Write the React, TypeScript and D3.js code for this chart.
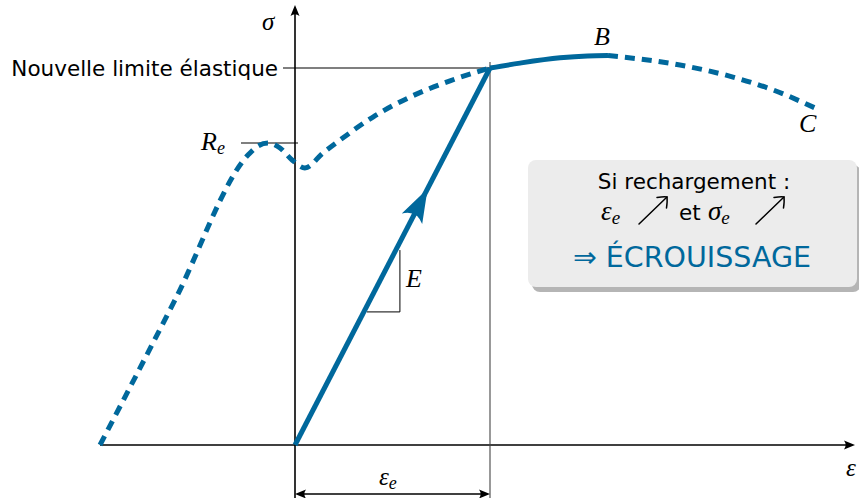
import React from "react";
import * as d3 from "d3";

// strain in units of εe, stress in units of the new yield limit
const strainDashedA = [-1.0, -0.615, -0.241, -0.19, -0.138, -0.077, -0.015, 0.051, 0.144, 0.231, 0.4, 0.59, 0.795, 1.0];
const stressDashedA = [0, 0.385, 0.769, 0.793, 0.801, 0.788, 0.756, 0.735, 0.775, 0.809, 0.87, 0.923, 0.966, 1.0];
const strainSolid = [1.0, 1.154, 1.359, 1.5, 1.605];
const stressSolid = [1.0, 1.013, 1.027, 1.032, 1.033];
const strainDashedB = [1.605, 1.682, 1.974, 2.246, 2.451, 2.667];
const stressDashedB = [1.033, 1.029, 1.008, 0.976, 0.942, 0.894];
const reStress = 0.801;
const yieldNew = 1.0;
const epsE = 1.0;
const arrowT = 0.68;
const triangle = { x0: 0.369, x1: 0.538, y0: 0.353, y1: 0.517 };

const BLUE = "#00689c";
const SANS = "DejaVu Sans";
const MATH = "Liberation Serif";

const x = d3.scaleLinear().domain([0, 1]).range([295, 490]);
const y = d3.scaleLinear().domain([0, 1]).range([445, 68]);

const line = d3
  .line<[number, number]>()
  .x((d) => x(d[0]))
  .y((d) => y(d[1]))
  .curve(d3.curveMonotoneX);

const zip = (a: number[], b: number[]) => a.map((v, i) => [v, b[i]] as [number, number]);

function arrowHead(tx: number, ty: number, angle: number, len: number, half: number, color: string) {
  const d = `M0,0 L${-len},${half} Q${-len * 0.7},0 ${-len},${-half} Z`;
  return <path d={d} fill={color} transform={`translate(${tx},${ty}) rotate(${angle})`} />;
}

function nearArrow(x0: number, y0: number) {
  // thin "↗" math arrow, drawn from bottom-left
  const dx = 28, dy = -27;
  const x1 = x0 + dx, y1 = y0 + dy;
  return (
    <g stroke="#000" strokeWidth={1.5} fill="none" strokeLinecap="round">
      <line x1={x0} y1={y0} x2={x1} y2={y1} />
      <path d={`M${x1 - 10},${y1 + 0.5} Q${x1 - 3},${y1 - 0.5} ${x1},${y1} Q${x1 + 0.5},${y1 + 4} ${x1 - 0.5},${y1 + 11}`} />
    </g>
  );
}

export default function App() {
  const xMin = x(-1.0);
  const xMax = 855;
  const yAxisTop = 5;
  const yBottom = 498;
  const ang = (Math.atan2(y(1) - y(0), x(1) - x(0)) * 180) / Math.PI;
  const tipX = x(arrowT);
  const tipY = y(arrowT);
  return (
    <svg
      width={859}
      height={498}
      style={{ position: "absolute", left: 0, top: 0, background: "#fff" }}
    >
      {/* axes */}
      <line x1={xMin} y1={y(0)} x2={xMax - 4} y2={y(0)} stroke="#000" strokeWidth={1.6} />
      {arrowHead(xMax, y(0), 0, 11, 4.5, "#000")}
      <line x1={x(0)} y1={yBottom} x2={x(0)} y2={yAxisTop + 4} stroke="#000" strokeWidth={1.6} />
      {arrowHead(x(0), yAxisTop, -90, 11, 4.5, "#000")}

      {/* helper lines */}
      <line x1={283} y1={y(yieldNew)} x2={x(epsE)} y2={y(yieldNew)} stroke="#000" strokeWidth={1.1} />
      <line x1={x(epsE)} y1={y(yieldNew) - 6} x2={x(epsE)} y2={yBottom} stroke="#444" strokeWidth={1.1} />
      <line x1={241} y1={y(reStress)} x2={298} y2={y(reStress)} stroke="#000" strokeWidth={1.1} />

      {/* E triangle */}
      <path
        d={`M${x(triangle.x0)},${y(triangle.y0)} L${x(triangle.x1)},${y(triangle.y0)} L${x(triangle.x1)},${y(triangle.y1)}`}
        fill="none"
        stroke="#000"
        strokeWidth={1}
      />

      {/* dimension εe */}
      <line x1={x(0) + 6} y1={494} x2={x(epsE) - 6} y2={494} stroke="#000" strokeWidth={1.4} />
      {arrowHead(x(0), 494, 180, 11, 4.5, "#000")}
      {arrowHead(x(epsE), 494, 0, 11, 4.5, "#000")}

      {/* curves */}
      <path d={line(zip(strainDashedA, stressDashedA)) || ""} fill="none" stroke={BLUE} strokeWidth={5} strokeDasharray="10 7" />
      <path d={line(zip(strainSolid, stressSolid)) || ""} fill="none" stroke={BLUE} strokeWidth={5} />
      <path d={line(zip(strainDashedB, stressDashedB)) || ""} fill="none" stroke={BLUE} strokeWidth={5} strokeDasharray="10 7" />

      {/* elastic reload line */}
      <line x1={x(0)} y1={y(0)} x2={x(1)} y2={y(1)} stroke={BLUE} strokeWidth={5} />
      {arrowHead(tipX, tipY, ang, 34, 11.5, BLUE)}

      {/* labels */}
      <text x={278} y={76} textAnchor="end" fontFamily={SANS} fontSize={21.5} fill="#000">
        Nouvelle limite élastique
      </text>
      <text x={262} y={30} fontFamily={MATH} fontStyle="italic" fontSize={25}>σ</text>
      <text x={846} y={476} fontFamily={MATH} fontStyle="italic" fontSize={25}>ε</text>
      <text x={201} y={150} fontFamily={MATH} fontStyle="italic" fontSize={26}>
        R<tspan fontSize={18} dy={4}>e</tspan>
      </text>
      <text x={594} y={45} fontFamily={MATH} fontStyle="italic" fontSize={26}>B</text>
      <text x={799} y={132} fontFamily={MATH} fontStyle="italic" fontSize={26}>C</text>
      <text x={406} y={287} fontFamily={MATH} fontStyle="italic" fontSize={26}>E</text>
      <text x={379} y={485} fontFamily={MATH} fontStyle="italic" fontSize={25}>
        ε<tspan fontSize={18} dy={4}>e</tspan>
      </text>

      {/* info box */}
      <rect x={532} y={165} width={329} height={127} rx={8} fill="#b5b5b5" />
      <rect x={528} y={160} width={329} height={127} rx={8} fill="#ececec" />
      <text x={694} y={189} textAnchor="middle" fontFamily={SANS} fontSize={21.5}>Si rechargement :</text>
      <text x={601} y={220} fontFamily={MATH} fontStyle="italic" fontSize={27}>
        ε<tspan fontSize={19} dy={4}>e</tspan>
      </text>
      {nearArrow(639, 224)}
      <text x={679} y={220} fontFamily={SANS} fontSize={21.5}>et</text>
      <text x={708} y={220} fontFamily={MATH} fontStyle="italic" fontSize={27}>
        σ<tspan fontSize={19} dy={4}>e</tspan>
      </text>
      {nearArrow(756, 224)}
      <text x={692} y={267} textAnchor="middle" fontFamily={SANS} fontSize={28.5} fill={BLUE}>
        ⇒ ÉCROUISSAGE
      </text>
    </svg>
  );
}
